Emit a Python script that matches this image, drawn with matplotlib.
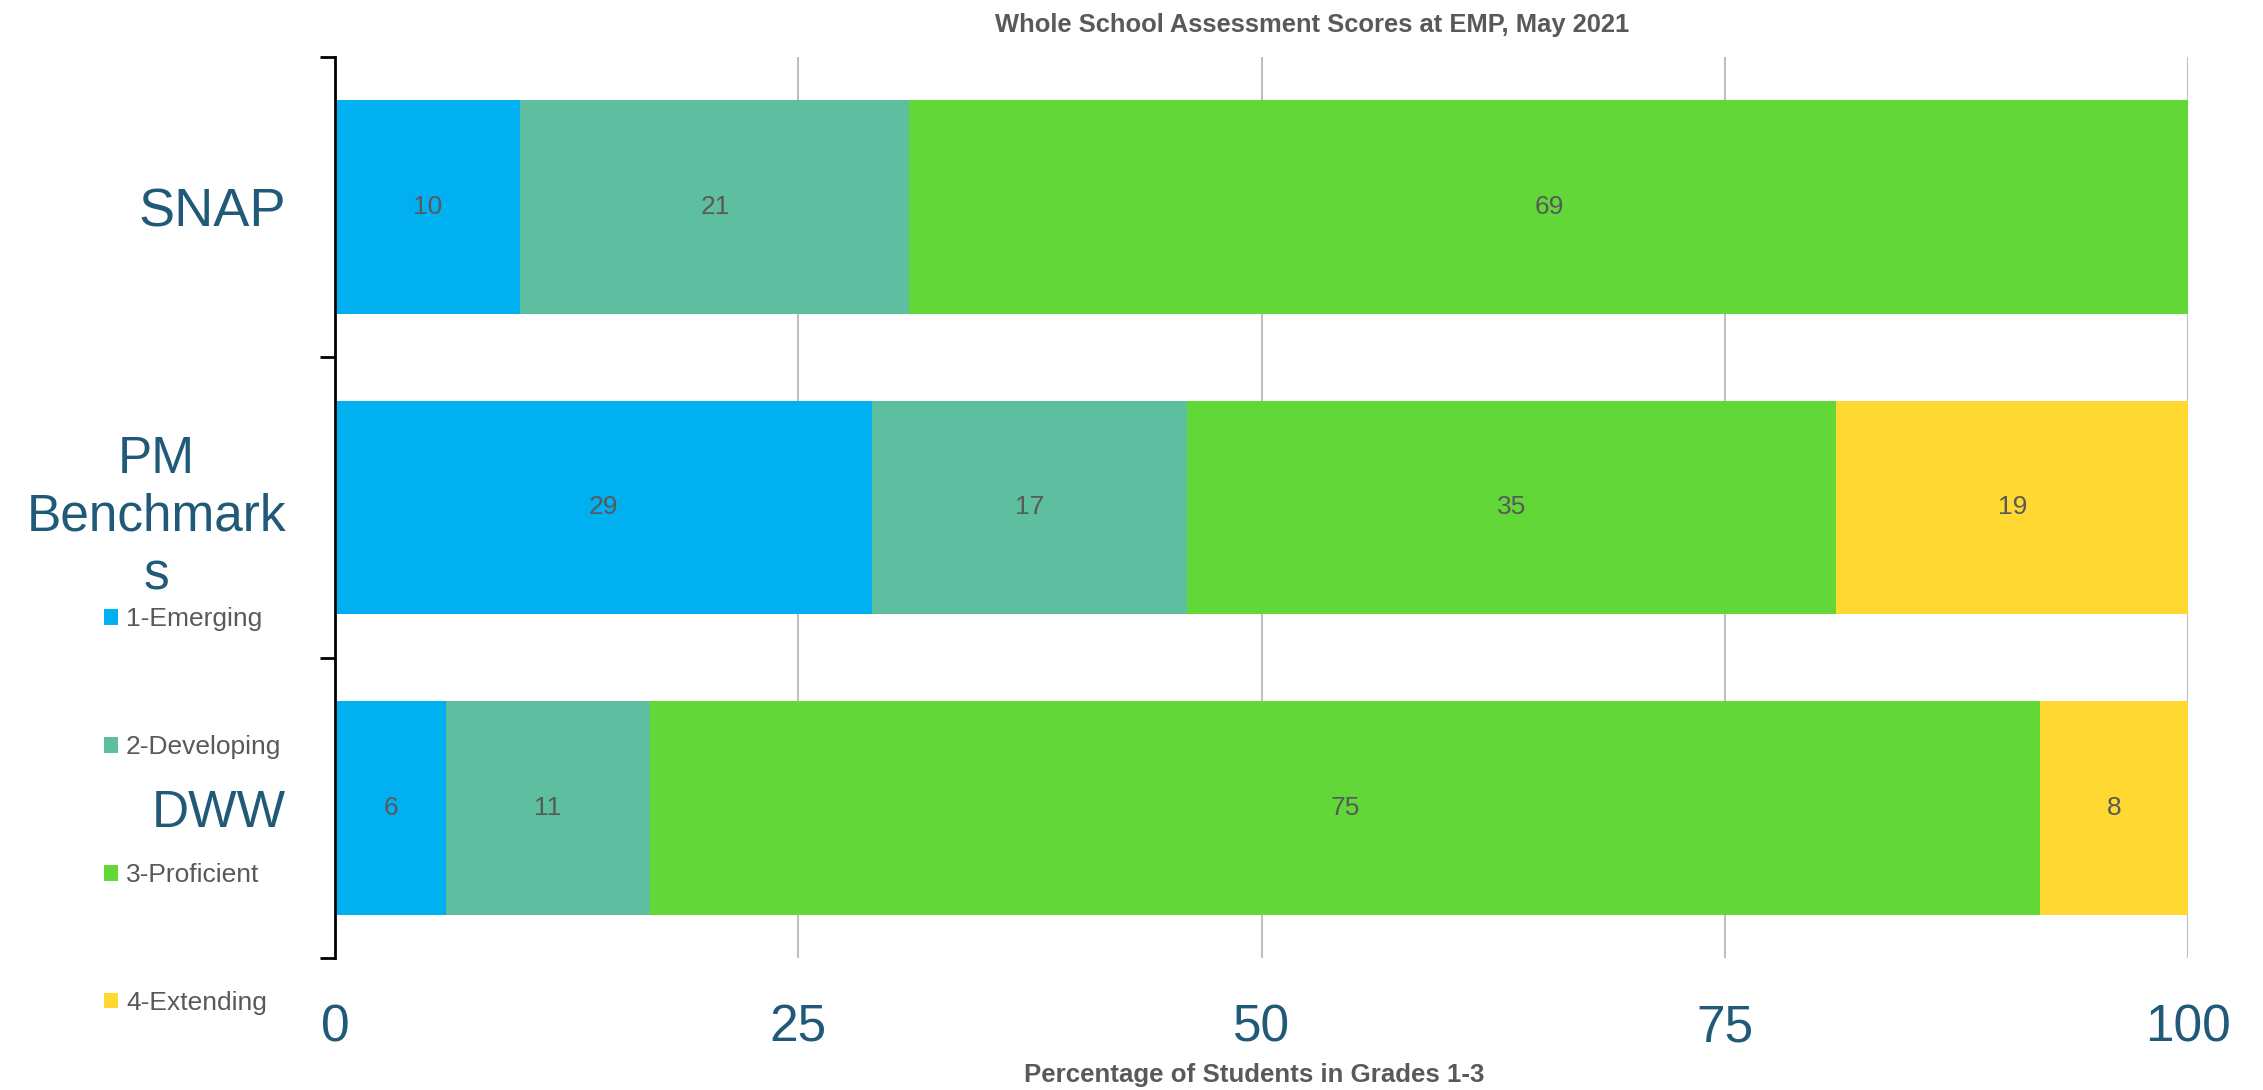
import matplotlib.pyplot as plt
from matplotlib.patches import Patch

# data
categories = ["SNAP", "PM\nBenchmark\ns", "DWW"]
series_names = ["1-Emerging", "2-Developing", "3-Proficient", "4-Extending"]
emerging = [10, 29, 6]
developing = [21, 17, 11]
proficient = [69, 35, 75]
extending = [0, 19, 8]
series_values = [emerging, developing, proficient, extending]
colors = ["#00B0F0", "#5DBEA0", "#62D838", "#FFD832"]
xticks = [0, 25, 50, 75, 100]

plain = ["Liberation Sans", "DejaVu Sans"]
grey = "#595959"
blue = "#215A78"

fig = plt.figure(figsize=(22.63, 10.90), dpi=100)
ax = fig.add_axes([0.148, 0.121, 0.819, 0.827])

ypos = list(range(len(categories)))
left = [0] * len(categories)
for name, vals, col in zip(series_names, series_values, colors):
    bars = ax.barh(ypos, vals, left=left, height=0.71, color=col, label=name, zorder=3)
    for b, v in zip(bars, vals):
        if v > 0:
            ax.text(b.get_x() + b.get_width() / 2, b.get_y() + b.get_height() / 2, str(v),
                    ha="center", va="center", fontsize=19, color=grey, family=plain, zorder=4)
    left = [l + v for l, v in zip(left, vals)]

ax.set_xlim(0, 100)
ax.set_ylim(len(categories) - 0.5, -0.5)
ax.set_xticks(xticks)
ax.set_xticklabels([str(t) for t in xticks], fontsize=37, color=blue, family=plain)
ax.tick_params(axis="x", length=0, pad=33)
ax.grid(axis="x", color="#BFBFBF", linewidth=1.5, zorder=0)

ax.set_yticks(ypos)
ax.set_yticklabels(categories, fontsize=37, color=blue, family=plain, ha="right",
                   multialignment="center", linespacing=1.24)
ax.tick_params(axis="y", which="major", length=0, pad=35)
ax.get_yticklabels()[0].set_fontsize(39)
ax.set_yticks([-0.5, 0.5, 1.5, 2.5], minor=True)
ax.tick_params(axis="y", which="minor", length=11, width=2, color="black")

for s in ["top", "right", "bottom"]:
    ax.spines[s].set_visible(False)
ax.spines["left"].set_linewidth(2)
ax.spines["left"].set_zorder(5)

fig.text(0.58, 0.977, "Whole School Assessment Scores at EMP, May 2021", ha="center", va="center",
         fontsize=18.4, fontweight="bold", color=grey, family=plain)
fig.text(0.554, 0.014, "Percentage of Students in Grades 1-3", ha="center", va="center",
         fontsize=18.6, fontweight="bold", color=grey, family=plain)

handles = [Patch(facecolor=c, label=n) for n, c in zip(series_names, colors)]
fig.legend(handles=handles, loc="upper left", bbox_to_anchor=(0.046, 0.443), frameon=False,
           labelcolor=grey, prop={"family": plain, "size": 19},
           handlelength=0.53, handleheight=0.53, handletextpad=0.3,
           labelspacing=3.94, borderpad=0, borderaxespad=0)

fig.savefig("out.png", dpi=100)
